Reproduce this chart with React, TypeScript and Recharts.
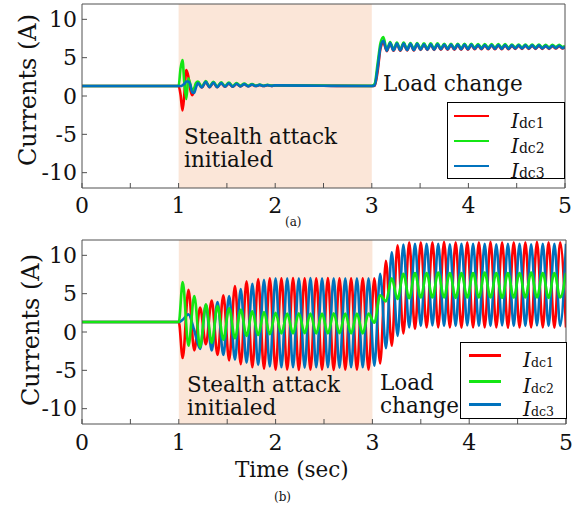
import React from "react";
import { LineChart, Line, XAxis, YAxis, ReferenceArea } from "recharts";

const FONT = "'DejaVu Serif', serif";
const SHADE = "#fbe6d8";
const AXIS = "#505050";

const xTicks = [0, 0.5, 1, 1.5, 2, 2.5, 3, 3.5, 4, 4.5, 5];
const yTicks = [-10, -5, 0, 5, 10];

const seriesKeys = ["idc1", "idc2", "idc3"];
const seriesSubs = ["dc1", "dc2", "dc3"];
const seriesColors = ["#ff0000", "#14e614", "#0072bd"];

// (a) stealth attack only, then load change at t = 3 s
const timeA = [
    0, 0.5, 0.98, 1.0, 1.02, 1.04, 1.06, 1.08, 1.1, 1.12, 1.14, 1.16, 1.18, 1.2,
    1.24, 1.28, 1.32, 1.36, 1.4, 1.44, 1.48, 1.52, 1.56, 1.6, 1.64, 1.68, 1.72, 1.76, 1.8, 1.84, 1.88, 1.92, 1.96, 2.0,
    2.5, 3.0, 3.03, 3.06, 3.09, 3.12,
    3.155, 3.19, 3.225, 3.26, 3.295, 3.33, 3.365, 3.4, 3.435, 3.47,
    3.505, 3.54, 3.575, 3.61, 3.645, 3.68, 3.715, 3.75, 3.785, 3.82,
    3.855, 3.89, 3.925, 3.96, 3.995, 4.03, 4.065, 4.1, 4.135, 4.17,
    4.205, 4.24, 4.275, 4.31, 4.345, 4.38, 4.415, 4.45, 4.485, 4.52,
    4.555, 4.59, 4.625, 4.66, 4.695, 4.73, 4.765, 4.8, 4.835, 4.87,
    4.905, 4.94, 4.975, 5.0,
];

const idc1A = [
    1.3, 1.3, 1.3, 1.3, 0.2, -1.9, 0.3, 3.4, 2.6, 0.9, 0.1, 0.6, 1.4, 1.8,
    1.1, 1.8, 1.15, 1.72, 1.15, 1.68, 1.2, 1.62, 1.22, 1.58, 1.25, 1.53, 1.27, 1.48, 1.3, 1.44, 1.3, 1.4, 1.32, 1.37,
    1.33, 1.3, 1.35, 3.2, 6.2, 7.0,
    5.85, 6.85, 5.9, 6.8, 5.9, 6.8, 5.95, 6.75, 5.95, 6.75,
    6.0, 6.7, 6.0, 6.7, 6.0, 6.7, 6.05, 6.65, 6.05, 6.65,
    6.05, 6.65, 6.05, 6.65, 6.05, 6.65, 6.1, 6.6, 6.1, 6.6,
    6.1, 6.6, 6.1, 6.6, 6.1, 6.6, 6.1, 6.55, 6.15, 6.55,
    6.15, 6.55, 6.15, 6.55, 6.15, 6.55, 6.15, 6.5, 6.15, 6.5,
    6.2, 6.5, 6.2, 6.37,
];

const idc2A = [
    1.3, 1.3, 1.3, 1.3, 3.6, 4.7, 1.6, -0.4, 2.3, 1.6, 0.7, 1.0, 1.7, 1.9,
    1.2, 1.95, 1.25, 1.85, 1.25, 1.8, 1.3, 1.75, 1.3, 1.7, 1.35, 1.62, 1.33, 1.56, 1.35, 1.5, 1.34, 1.46, 1.35, 1.4,
    1.35, 1.32, 1.6, 4.2, 6.9, 7.7,
    6.02, 7.05, 6.07, 6.97, 6.07, 6.97, 6.12, 6.92, 6.12, 6.92,
    6.17, 6.87, 6.17, 6.87, 6.17, 6.87, 6.22, 6.82, 6.22, 6.82,
    6.22, 6.82, 6.22, 6.82, 6.22, 6.82, 6.27, 6.77, 6.27, 6.77,
    6.27, 6.77, 6.27, 6.77, 6.27, 6.77, 6.27, 6.72, 6.32, 6.72,
    6.32, 6.72, 6.32, 6.72, 6.32, 6.72, 6.32, 6.67, 6.32, 6.67,
    6.37, 6.67, 6.37, 6.54,
];

const idc3A = [
    1.3, 1.3, 1.3, 1.3, 1.3, 1.4, 1.6, 1.9, 1.9, 1.5, 0.5, 0.4, 1.1, 1.7,
    1.1, 1.85, 1.15, 1.75, 1.15, 1.7, 1.2, 1.65, 1.2, 1.6, 1.25, 1.55, 1.25, 1.5, 1.3, 1.45, 1.3, 1.42, 1.32, 1.38,
    1.33, 1.3, 1.4, 3.6, 6.4, 7.2,
    5.9, 6.9, 5.95, 6.85, 5.95, 6.85, 6.0, 6.8, 6.0, 6.8,
    6.05, 6.75, 6.05, 6.75, 6.05, 6.75, 6.1, 6.7, 6.1, 6.7,
    6.1, 6.7, 6.1, 6.7, 6.1, 6.7, 6.15, 6.65, 6.15, 6.65,
    6.15, 6.65, 6.15, 6.65, 6.15, 6.65, 6.15, 6.6, 6.2, 6.6,
    6.2, 6.6, 6.2, 6.6, 6.2, 6.6, 6.2, 6.55, 6.2, 6.55,
    6.25, 6.55, 6.25, 6.42,
];

// (b) stealth attack with oscillating currents, then load change
const timeB = [
    0, 0.5, 1.0,
    1.04, 1.1, 1.16, 1.22, 1.28, 1.34, 1.4, 1.46, 1.52, 1.58,
    1.64, 1.7, 1.76, 1.82, 1.88, 1.94, 2.0, 2.06, 2.12, 2.18,
    2.24, 2.3, 2.36, 2.42, 2.48, 2.54, 2.6, 2.66, 2.72, 2.78,
    2.84, 2.9, 2.96, 3.02, 3.08, 3.14, 3.2, 3.26, 3.32, 3.38,
    3.44, 3.5, 3.56, 3.62, 3.68, 3.74, 3.8, 3.86, 3.92, 3.98,
    4.04, 4.1, 4.16, 4.22, 4.28, 4.34, 4.4, 4.46, 4.52, 4.58,
    4.64, 4.7, 4.76, 4.82, 4.88, 4.94, 5.0,
];

const idc1B = [
    1.3, 1.3, 1.3,
    -3.4, 5.5, -2.4, 3.2, -1.6, 4.1, -3.0, 4.8, -3.7, 6.0,
    -4.2, 6.6, -4.6, 6.9, -4.8, 7.0, -4.9, 7.0, -4.9, 7.05,
    -4.95, 7.0, -4.9, 7.0, -4.9, 7.05, -4.95, 7.0, -4.9, 7.0,
    -4.9, 7.0, -4.9, 7.0, -4.1, 9.3, -1.8, 11.3, -0.2, 11.7,
    0.4, 11.7, 0.6, 11.7, 0.6, 11.75, 0.6, 11.7, 0.55, 11.7,
    0.6, 11.7, 0.6, 11.75, 0.6, 11.7, 0.55, 11.7, 0.6, 11.7,
    0.6, 11.75, 0.6, 11.7, 0.55, 11.7, 0.6,
];

const idc2B = [
    1.3, 1.3, 1.3,
    6.5, -1.8, 4.7, -2.0, 3.6, -1.4, 3.4, -1.0, 3.1, -0.8,
    2.9, -0.5, 2.7, -0.4, 2.6, -0.3, 2.5, -0.2, 2.4, -0.2,
    2.45, -0.15, 2.4, -0.2, 2.4, -0.2, 2.45, -0.15, 2.4, -0.2,
    2.4, -0.2, 2.4, 1.2, 4.8, 4.0, 7.0, 4.3, 7.6, 4.4,
    7.7, 4.5, 7.7, 4.5, 7.75, 4.5, 7.7, 4.45, 7.7, 4.5,
    7.7, 4.5, 7.75, 4.5, 7.7, 4.45, 7.7, 4.5, 7.7, 4.5,
    7.75, 4.5, 7.7, 4.45, 7.7, 4.5, 7.7,
];

const idc3B = [
    1.3, 1.3, 1.3,
    1.6, 2.3, 0.2, -2.2, 3.5, -2.4, 3.9, -3.0, 4.7, -3.6,
    5.6, -4.0, 6.3, -4.3, 6.8, -4.5, 7.0, -4.6, 7.0, -4.6,
    7.0, -4.65, 7.05, -4.6, 7.0, -4.6, 7.0, -4.65, 7.0, -4.6,
    7.0, -4.6, 7.0, -4.4, 7.6, -2.1, 10.4, -0.5, 11.4, 0.6,
    11.5, 0.8, 11.5, 0.85, 11.5, 0.8, 11.45, 0.8, 11.5, 0.85,
    11.5, 0.8, 11.5, 0.8, 11.45, 0.85, 11.5, 0.8, 11.5, 0.8,
    11.45, 0.85, 11.5, 0.8, 11.5, 0.8, 11.5,
];

type Row = { time: number; idc1: number; idc2: number; idc3: number };

const makeRows = (t: number[], a: number[], b: number[], c: number[]): Row[] =>
    t.map((time, i) => ({ time, idc1: a[i], idc2: b[i], idc3: c[i] }));

const rowsA = makeRows(timeA, idc1A, idc2A, idc3A);
const rowsB = makeRows(timeB, idc1B, idc2B, idc3B);

interface PanelProps {
    rows: Row[];
    height: number;
    margin: { top: number; right: number; bottom: number; left: number };
    tickGap: number;
    order: number[];
}

const Panel = ({ rows, height, margin, tickGap, order }: PanelProps) => (
    <LineChart width={585} height={height} data={rows} margin={margin}>
        <ReferenceArea x1={1} x2={3} fill={SHADE} fillOpacity={1} stroke="none" />
        <XAxis
            dataKey="time"
            type="number"
            domain={[0, 5]}
            allowDataOverflow
            ticks={xTicks}
            interval={0}
            tickFormatter={(v: number) => (Number.isInteger(v) ? String(v) : "")}
            tickSize={-5}
            tickMargin={tickGap}
            height={30}
            stroke={AXIS}
            tick={{ fill: "#111", fontSize: 22, fontFamily: FONT }}
        />
        <XAxis
            xAxisId="top"
            orientation="top"
            dataKey="time"
            type="number"
            domain={[0, 5]}
            allowDataOverflow
            ticks={xTicks}
            interval={0}
            tick={false}
            tickSize={-5}
            height={1}
            stroke={AXIS}
        />
        <YAxis
            type="number"
            domain={[-12, 12]}
            allowDataOverflow
            ticks={yTicks}
            interval={0}
            tickSize={-5}
            tickMargin={10}
            width={60}
            stroke={AXIS}
            tick={{ fill: "#111", fontSize: 22, fontFamily: FONT }}
        />
        <YAxis
            yAxisId="right"
            orientation="right"
            type="number"
            domain={[-12, 12]}
            allowDataOverflow
            ticks={yTicks}
            interval={0}
            tick={false}
            tickSize={-5}
            width={1}
            stroke={AXIS}
        />
        {order.map((i) => (
            <Line
                key={seriesKeys[i]}
                dataKey={seriesKeys[i]}
                type="monotone"
                stroke={seriesColors[i]}
                strokeWidth={2.6}
                dot={false}
                activeDot={false}
                isAnimationActive={false}
            />
        ))}
    </LineChart>
);

interface LegendProps {
    left: number;
    top: number;
    width: number;
    lineLeft: number;
    lineWidth: number;
    lineThick: number;
    textLeft: number;
    subSize: number;
    rowTops: number[];
}

const LegendBox = ({ left, top, width, lineLeft, lineWidth, lineThick, textLeft, subSize, rowTops }: LegendProps) => (
    <div
        style={{
            position: "absolute",
            left,
            top,
            width,
            height: 77,
            boxSizing: "border-box",
            border: "1px solid #000",
            background: "#fff",
            fontFamily: FONT,
            color: "#111",
        }}
    >
        {seriesSubs.map((sub, i) => (
            <div key={sub} style={{ position: "absolute", left: 0, top: rowTops[i], height: 0 }}>
                <div
                    style={{
                        position: "absolute",
                        left: lineLeft,
                        top: -lineThick / 2,
                        width: lineWidth,
                        height: lineThick,
                        background: seriesColors[i],
                    }}
                />
                <div style={{ position: "absolute", left: textLeft, top: -8, whiteSpace: "nowrap", lineHeight: "26px" }}>
                    <span style={{ fontStyle: "italic", fontSize: 20 }}>I</span>
                    <span style={{ fontSize: subSize }}>{sub}</span>
                </div>
            </div>
        ))}
    </div>
);

const textStyle = (left: number, top: number, size = 21.5): React.CSSProperties => ({
    position: "absolute",
    left,
    top,
    fontFamily: FONT,
    fontSize: size,
    lineHeight: "23px",
    color: "#111",
    whiteSpace: "nowrap",
});

const yLabelStyle = (cx: number, cy: number): React.CSSProperties => ({
    position: "absolute",
    left: cx,
    top: cy,
    transform: "translate(-50%, -50%) rotate(-90deg)",
    fontFamily: FONT,
    fontSize: 24,
    color: "#111",
    whiteSpace: "nowrap",
});

const App = () => (
    <div style={{ position: "absolute", left: 0, top: 0, width: 585, height: 508, background: "#fff" }}>
        <div style={{ position: "absolute", left: 0, top: 0 }}>
            <Panel rows={rowsA} height={230} margin={{ top: 3, right: 19, bottom: 12, left: 22 }} tickGap={14} order={[0, 1, 2]} />
        </div>
        <div style={{ position: "absolute", left: 0, top: 230 }}>
            <Panel rows={rowsB} height={250} margin={{ top: 9, right: 18, bottom: 26, left: 22 }} tickGap={15} order={[0, 2, 1]} />
        </div>

        <div style={yLabelStyle(28, 90)}>Currents (A)</div>
        <div style={yLabelStyle(31, 330)}>Currents (A)</div>

        <div style={textStyle(184, 125)}>
            Stealth attack
            <br />
            initialed
        </div>
        <div style={textStyle(383, 72)}>Load change</div>

        <div style={textStyle(187, 373)}>
            Stealth attack
            <br />
            initialed
        </div>
        <div style={textStyle(380, 371)}>
            Load
            <br />
            change
        </div>

        <div style={textStyle(235, 458)}>Time (sec)</div>

        <div style={{ ...textStyle(285, 214, 12), lineHeight: "16px" }}>(a)</div>
        <div style={{ ...textStyle(274, 489, 12), lineHeight: "16px" }}>(b)</div>

        <LegendBox left={447} top={102} width={118} lineLeft={6} lineWidth={35} lineThick={2} textLeft={63} subSize={14} rowTops={[13, 38, 63]} />
        <LegendBox left={460} top={342} width={107} lineLeft={8} lineWidth={32} lineThick={3} textLeft={62} subSize={12.5} rowTops={[12, 38, 61]} />
    </div>
);

export default App;
